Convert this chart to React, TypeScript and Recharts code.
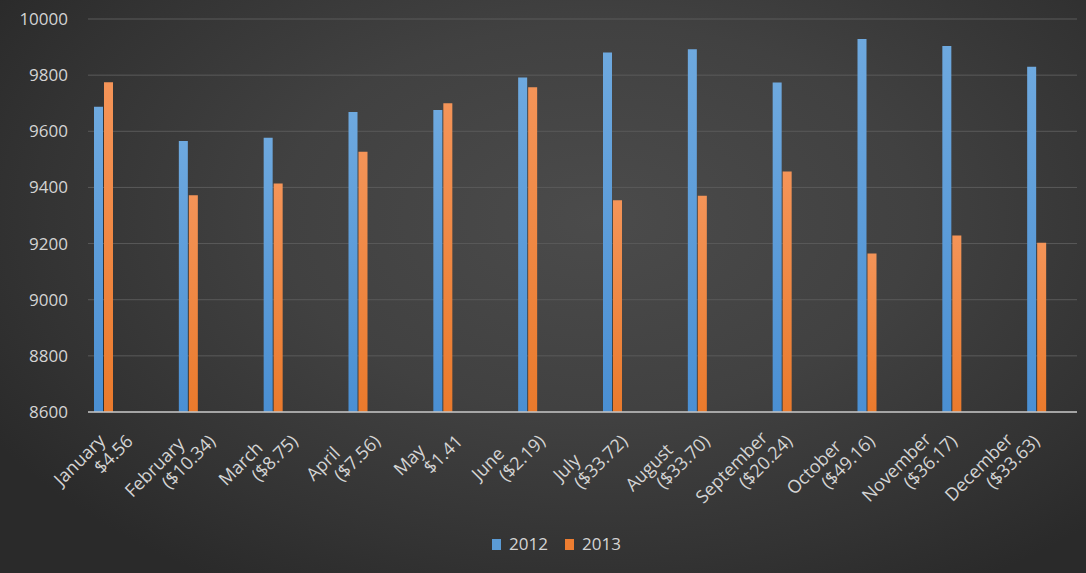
import React from "react";
import { BarChart, Bar, XAxis, YAxis, CartesianGrid, Legend } from "recharts";

const months = [
  "January", "February", "March", "April", "May", "June",
  "July", "August", "September", "October", "November", "December",
];
const diffLabels = [
  "$4.56", "($10.34)", "($8.75)", "($7.56)", "$1.41", "($2.19)",
  "($33.72)", "($33.70)", "($20.24)", "($49.16)", "($36.17)", "($33.63)",
];
const sales2012 = [9687, 9565, 9577, 9669, 9676, 9792, 9881, 9892, 9774, 9929, 9904, 9830];
const sales2013 = [9775, 9372, 9414, 9527, 9700, 9757, 9354, 9370, 9457, 9165, 9229, 9203];
const yTicks = [8600, 8800, 9000, 9200, 9400, 9600, 9800, 10000];
const seriesColors: Record<string, string> = { "2012": "#5b9bd5", "2013": "#ed7d31" };

const data = months.map((m, i) => ({
  month: m,
  diff: diffLabels[i],
  "2012": sales2012[i],
  "2013": sales2013[i],
}));

const FONT = "'Open Sans', sans-serif";
const LABEL = "#d4d4d4";
const TICK_SIZE = 18;

let ctx: CanvasRenderingContext2D | null = null;
function textWidth(s: string, size: number) {
  if (!ctx) ctx = document.createElement("canvas").getContext("2d");
  if (!ctx) return s.length * size * 0.55;
  ctx.font = `${size}px 'Open Sans', sans-serif`;
  return ctx.measureText(s).width;
}

// two-line rotated category label, second line carries the price change
const MonthTick = (props: any) => {
  const { x, y, index } = props;
  const l1 = months[index];
  const l2 = diffLabels[index];
  const w2 = textWidth(l2, TICK_SIZE);
  return (
    <g transform={`translate(${x},${y}) rotate(-45)`}>
      <text x={-18 - w2 / 2 - 28} y={5} textAnchor="middle" fill={LABEL} fontSize={TICK_SIZE} fontFamily={FONT}>
        {l1}
      </text>
      <text x={-18} y={25} textAnchor="end" fill={LABEL} fontSize={TICK_SIZE} fontFamily={FONT}>
        {l2}
      </text>
    </g>
  );
};

const LegendContent = (props: any) => {
  const items = props.payload || [];
  return (
    <div style={{ display: "flex", justifyContent: "center", paddingLeft: 36, fontFamily: FONT }}>
      {items.map((it: any, i: number) => (
        <div key={it.value} style={{ display: "flex", alignItems: "center", marginLeft: i ? 17 : 0 }}>
          <span
            style={{
              display: "inline-block",
              width: 9,
              height: 11,
              background: seriesColors[it.value],
              marginRight: 8,
            }}
          />
          <span style={{ color: LABEL, fontSize: 17, lineHeight: "22px" }}>{it.value}</span>
        </div>
      ))}
    </div>
  );
};

export default function App() {
  return (
    <div
      style={{
        position: "absolute",
        left: 0,
        top: 0,
        width: 1086,
        height: 573,
        fontFamily: FONT,
        background:
          "radial-gradient(ellipse 65% 75% at 55% 38%, #4b4b4b 0%, #414141 45%, #333333 80%, #2a2a2a 100%)",
      }}
    >
      <BarChart
        width={1086}
        height={573}
        data={data}
        margin={{ top: 19, right: 9, left: 0, bottom: 18 }}
        barSize={9}
        barGap={1}
      >
        <defs>
          <linearGradient id="blueFill" x1="0" y1="0" x2="0" y2="1">
            <stop offset="0%" stopColor="#6ea9df" />
            <stop offset="100%" stopColor="#4a8fd3" />
          </linearGradient>
          <linearGradient id="orangeFill" x1="0" y1="0" x2="0" y2="1">
            <stop offset="0%" stopColor="#f49458" />
            <stop offset="100%" stopColor="#ea7a2c" />
          </linearGradient>
        </defs>
        <CartesianGrid vertical={false} stroke="#5a5a5a" strokeWidth={1} xAxisId="labels" />
        <XAxis
          xAxisId="labels"
          dataKey="month"
          height={121}
          axisLine={{ stroke: "#c4c4c4", strokeWidth: 1.5 }}
          tickLine={false}
          tickSize={0}
          tickMargin={0}
          interval={0}
          tick={<MonthTick />}
        />
        {/* bars sit on a slightly wider band than the labelled axis */}
        <XAxis xAxisId="bars" dataKey="month" hide height={0} padding={{ left: -27, right: -2 }} />
        <YAxis
          width={88}
          domain={[8600, 10000]}
          ticks={yTicks}
          interval={0}
          axisLine={false}
          tickLine={false}
          tickSize={0}
          tickMargin={20}
          tick={{ fill: LABEL, fontSize: 17, fontFamily: FONT }}
          allowDataOverflow
        />
        <Legend verticalAlign="bottom" height={22} content={<LegendContent />} />
        <Bar xAxisId="bars" dataKey="2012" fill="url(#blueFill)" isAnimationActive={false} />
        <Bar xAxisId="bars" dataKey="2013" fill="url(#orangeFill)" isAnimationActive={false} />
      </BarChart>
    </div>
  );
}
